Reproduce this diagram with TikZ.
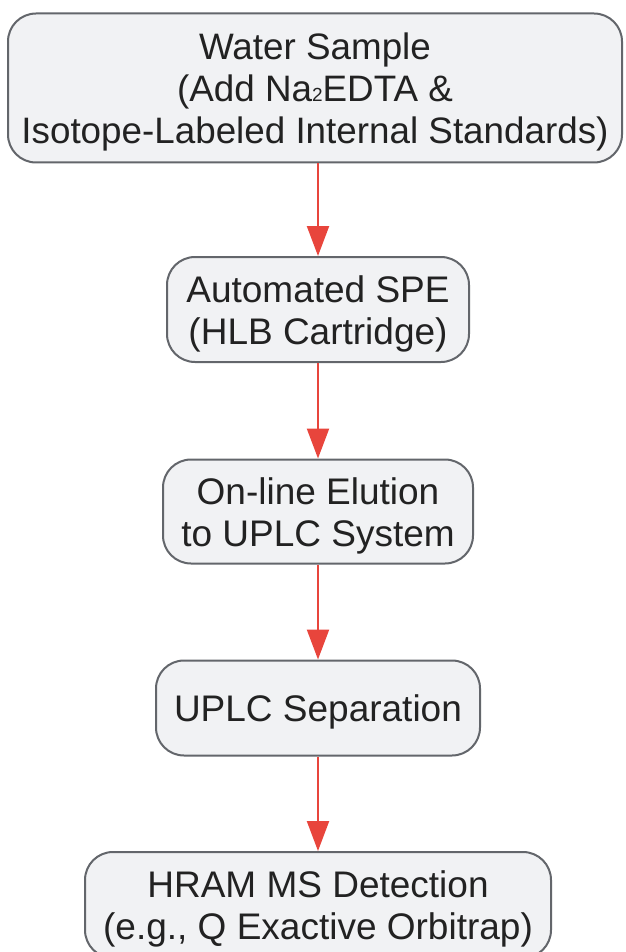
\documentclass[tikz,border=0pt]{standalone}
\usepackage{fontspec}
\setmainfont{Liberation Sans}
\usetikzlibrary{arrows.meta}
\definecolor{boxfill}{HTML}{F1F2F4}
\definecolor{boxdraw}{HTML}{63666B}
\definecolor{arrowred}{HTML}{E8453C}
\definecolor{txt}{HTML}{222222}
\newcommand{\topstrut}{\rule{0pt}{35pt}}
\tikzset{
  stepbox/.style={draw=boxdraw, fill=boxfill, line width=2pt, rounded corners=28pt,
    align=center, text=txt, inner sep=0pt,
    font=\fontsize{37}{42}\selectfont},
  flow/.style={draw=arrowred, line width=2.2pt, -{Triangle[width=22pt,length=30pt]}}
}
\begin{document}
\begin{tikzpicture}[x=1pt,y=-1pt]
\useasboundingbox (0,0) rectangle (625,952);
\node[stepbox, minimum width=614pt, minimum height=149pt, font=\fontsize{36.8}{42}\selectfont] (a) at (315,88)
  {\topstrut Water Sample\\(Add Na{\fontsize{19}{19}\selectfont 2}EDTA \&\\Isotope-Labeled Internal Standards)};
\node[stepbox, minimum width=302pt, minimum height=105pt] (b) at (318,309.5)
  {\topstrut Automated SPE\\(HLB Cartridge)};
\node[stepbox, minimum width=310pt, minimum height=104pt] (c) at (318,511.5)
  {\topstrut On-line Elution\\to UPLC System};
\node[stepbox, minimum width=324pt, minimum height=95pt] (d) at (318,708)
  {\topstrut UPLC Separation};
\node[stepbox, minimum width=466pt, minimum height=106pt] (e) at (318,905)
  {\topstrut HRAM MS Detection\\(e.g., Q Exactive Orbitrap)};
\draw[flow] (a.south -| b.north) -- (b.north);
\draw[flow] (b.south) -- (c.north);
\draw[flow] (c.south) -- (d.north);
\draw[flow] (d.south) -- (e.north);
\end{tikzpicture}
\end{document}
